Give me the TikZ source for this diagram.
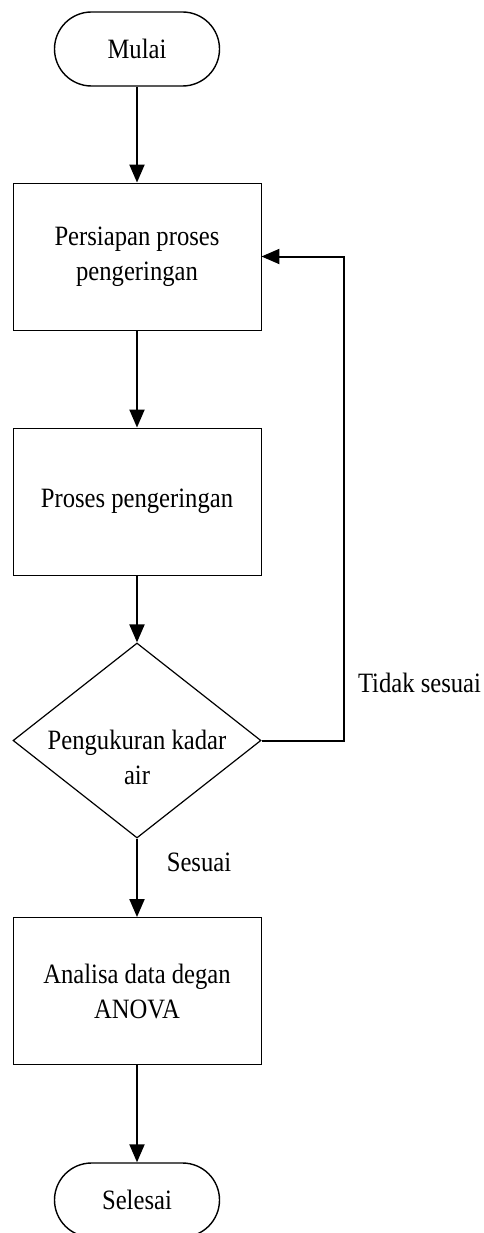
\documentclass[tikz,border=0pt]{standalone}
\usepackage{fontspec}
\setmainfont{Liberation Serif}[FakeStretch=0.88]
\usetikzlibrary{shapes.geometric,arrows.meta}
\begin{document}
\begin{tikzpicture}[x=1pt,y=-1pt,
  every node/.style={font=\fontsize{28}{35}\selectfont, align=center},
  term/.style={draw, line width=1.4pt, rounded corners=37pt, minimum width=165pt, minimum height=74pt, inner sep=0pt},
  procbox/.style={draw, line width=0.9pt, minimum width=248pt, minimum height=147pt, inner sep=0pt},
  decide/.style={draw, line width=1.2pt, shape=diamond, minimum width=248pt, minimum height=195pt, inner sep=0pt},
  flow/.style={line width=2pt, -{Triangle[length=18pt,width=15pt]}},
  plain/.style={line width=2pt}
]
\useasboundingbox (0,0) rectangle (484,1233);
\clip (0,0) rectangle (484,1233);
\node[term] (start) at (137,49) {Mulai};
\node[procbox] (prep) at (137,256.5) {Persiapan proses\\pengeringan};
\node[procbox] (proc) at (137,501.5) {Proses pengeringan};
\node[decide] (dec) at (137,740.5) {};
\node (dectext) at (137,757) {Pengukuran kadar\\air};
\node[procbox] (anova) at (137,991) {Analisa data degan\\ANOVA};
\node[term] (end) at (137,1200) {Selesai};
\coordinate (loopa) at (344,740.5);
\coordinate (loopb) at (344,256.5);
\draw[flow] (start) -- (prep);
\draw[flow] (prep) -- (proc);
\draw[flow] (proc) -- (dec);
\draw[flow] (dec) -- (anova);
\draw[flow] (anova) -- (end);
\draw[flow] (dec.east) -- (loopa) -- (loopb) -- (prep.east);
\node (no) at (419.5,683) {Tidak sesuai};
\node (yes) at (199,862) {Sesuai};
\end{tikzpicture}
\end{document}
